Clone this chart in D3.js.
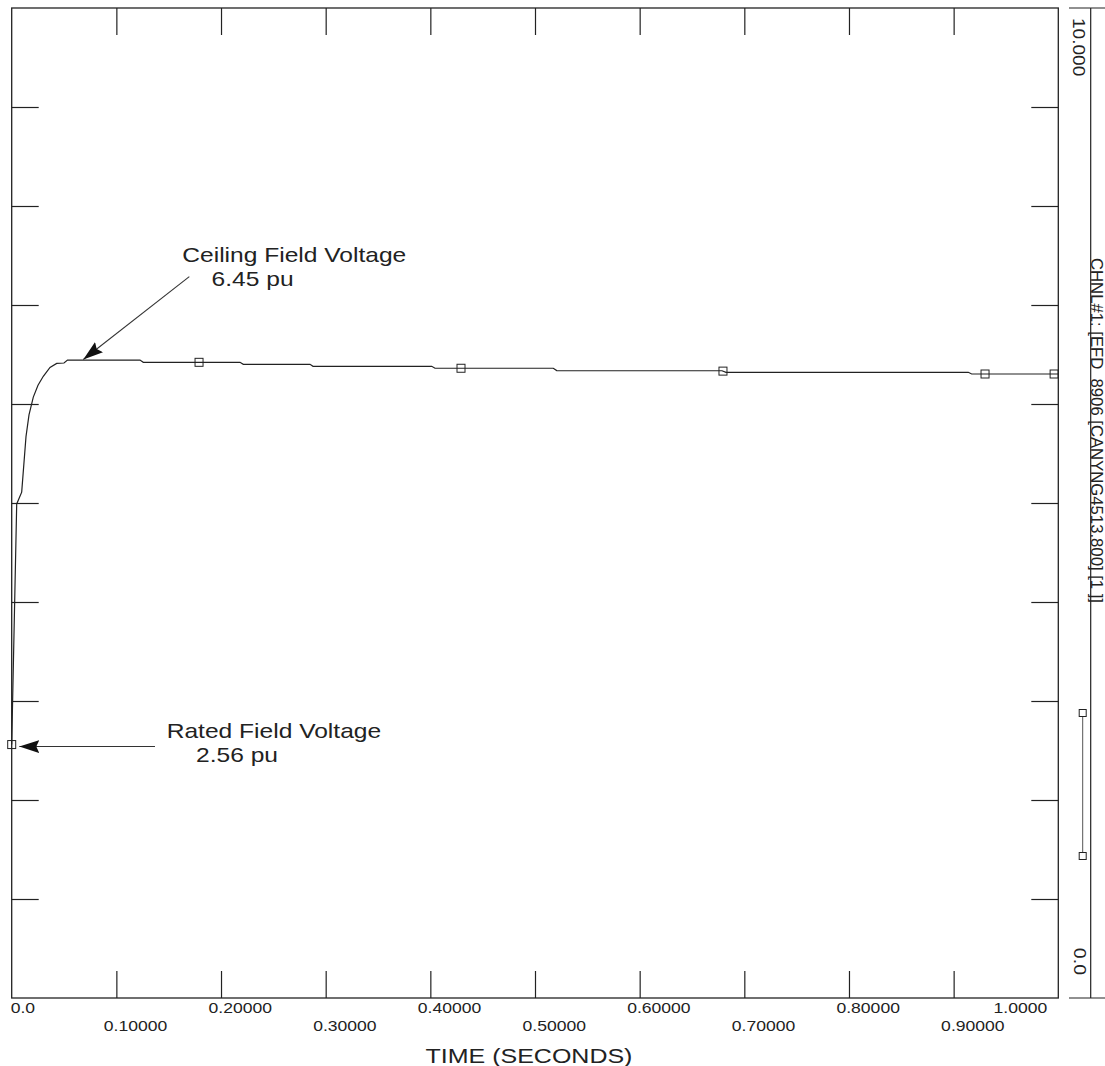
<!DOCTYPE html>
<html>
<head>
<meta charset="utf-8">
<script src="https://cdn.jsdelivr.net/npm/d3@7"></script>
<style>
  body { margin: 0; background: #fff; }
  svg { display: block; font-family: "Liberation Sans", Arial, sans-serif; }
  text { fill: #222; }
</style>
</head>
<body>
<div id="chart"></div>
<script>
// EFD channel trace, time in seconds, value in pu
const timeSec = [0, 0.00478, 0.00955, 0.01366, 0.01653, 0.02064, 0.02513, 0.03019, 0.0366, 0.043,
  0.04997, 0.05332, 0.12259, 0.12574, 0.21814, 0.22129, 0.28502, 0.28789, 0.4013, 0.40445,
  0.51749, 0.52074, 0.67868, 0.6825, 0.91401, 0.91726, 1.0];
const efdPu = [2.56, 4.99, 5.11, 5.67, 5.89, 6.07, 6.19, 6.28, 6.37, 6.41,
  6.414, 6.444, 6.444, 6.421, 6.421, 6.401, 6.401, 6.381, 6.381, 6.361,
  6.361, 6.338, 6.336, 6.32, 6.32, 6.303, 6.303];
const markerTimes = [0, 0.179, 0.4293, 0.6796, 0.93, 0.996];

const xTicks = [0.1, 0.2, 0.3, 0.4, 0.5, 0.6, 0.7, 0.8, 0.9];
const xTickLabels = ["0.0", "0.10000", "0.20000", "0.30000", "0.40000", "0.50000",
  "0.60000", "0.70000", "0.80000", "0.90000", "1.0000"];
const yTicks = [1, 2, 3, 4, 5, 6, 7, 8, 9];
const yMaxLabel = "10.000";
const yMinLabel = "0.0";
const channelLabel = "CHNL#1: [EFD  8906 [CANYNG4513.800] [1 ]]";

// annotations in data units: arrow tail -> tip, two text lines
const annTitles = ["Ceiling Field Voltage", "Rated Field Voltage"];
const annValues = ["6.45 pu", "2.56 pu"];
const annTip = [[0.0684, 6.45], [0.00726, 2.54]];
const annTail = [[0.1697, 7.286], [0.1369, 2.54]];
const annLine1 = [[0.163, 7.431], [0.1481, 2.623]];
const annLine2 = [[0.191, 7.189], [0.1761, 2.387]];

const W = 1105, H = 1066;
const STRETCH = 1.17; // the original text is drawn wider than Arial

const svg = d3.select("#chart").append("svg").attr("width", W).attr("height", H);

const x = d3.scaleLinear().domain([0, 1]).range([11.7, 1058.3]);
const y = d3.scaleLinear().domain([0, 10]).range([998, 8]);

function stretch(sel, k) {
  sel.each(function () {
    const w = this.getComputedTextLength();
    d3.select(this).attr("textLength", w * k).attr("lengthAdjust", "spacingAndGlyphs");
  });
}

const ink = "#222";

// tick marks (inward) on all four sides
const tickLen = 27;
const axes = [
  { ax: d3.axisBottom(x).tickValues(xTicks).tickSize(-tickLen), t: `translate(0,${y(0)})` },
  { ax: d3.axisTop(x).tickValues(xTicks).tickSize(-tickLen), t: `translate(0,${y(10)})` },
  { ax: d3.axisLeft(y).tickValues(yTicks).tickSize(-tickLen), t: `translate(${x(0)},0)` },
  { ax: d3.axisRight(y).tickValues(yTicks).tickSize(-tickLen), t: `translate(${x(1)},0)` }
];
axes.forEach(a => {
  const g = svg.append("g").attr("transform", a.t).call(a.ax.tickFormat(""));
  g.select(".domain").remove();
  g.selectAll("line").attr("stroke", ink).attr("stroke-width", 1.2);
});

// frame
svg.append("rect")
  .attr("x", x(0)).attr("y", y(10))
  .attr("width", x(1) - x(0)).attr("height", y(0) - y(10))
  .attr("fill", "none").attr("stroke", ink).attr("stroke-width", 1.3);

// x tick labels, two staggered rows
const allX = [0].concat(xTicks, [1]);
svg.append("g").selectAll("text")
  .data(allX)
  .join("text")
  .attr("x", (d, i) => i === 0 ? x(0) - 1 : (i === allX.length - 1 ? x(1) - 11 : x(d) - 12.5))
  .attr("y", (d, i) => i % 2 === 0 ? 1013 : 1031)
  .attr("text-anchor", (d, i) => i === allX.length - 1 ? "end" : "start")
  .attr("font-size", 15)
  .text((d, i) => xTickLabels[i])
  .call(stretch, STRETCH);

svg.append("text")
  .attr("x", (x(0) + x(1)) / 2 - 6)
  .attr("y", 1063)
  .attr("text-anchor", "middle")
  .attr("font-size", 21)
  .text("TIME (SECONDS)")
  .call(stretch, 1.19);

// trace
const pts = timeSec.map((t, i) => [t, efdPu[i]]);
const line = d3.line().x(d => x(d[0])).y(d => y(d[1]));
svg.append("path")
  .datum(pts)
  .attr("d", line)
  .attr("fill", "none")
  .attr("stroke", ink)
  .attr("stroke-width", 1.2);

const bis = d3.bisector(d => d[0]).left;
function valueAt(t) {
  const i = Math.max(1, Math.min(pts.length - 1, bis(pts, t)));
  const a = pts[i - 1], b = pts[i];
  return a[1] + (b[1] - a[1]) * (t - a[0]) / (b[0] - a[0]);
}
const ms = 8;
svg.append("g").selectAll("rect")
  .data(markerTimes)
  .join("rect")
  .attr("x", d => x(d) - ms / 2)
  .attr("y", d => y(valueAt(d)) - ms / 2)
  .attr("width", ms).attr("height", ms)
  .attr("fill", "none").attr("stroke", ink).attr("stroke-width", 1);

// annotations
svg.append("defs").append("marker")
  .attr("id", "head")
  .attr("viewBox", "0 0 20 13")
  .attr("refX", 20).attr("refY", 6.5)
  .attr("markerWidth", 20).attr("markerHeight", 13)
  .attr("markerUnits", "userSpaceOnUse")
  .attr("orient", "auto")
  .append("path")
  .attr("d", "M0,0 L20,6.5 L0,13 L3,6.5 Z")
  .attr("fill", "#111");

annTitles.forEach((title, i) => {
  svg.append("line")
    .attr("x1", x(annTail[i][0])).attr("y1", y(annTail[i][1]))
    .attr("x2", x(annTip[i][0])).attr("y2", y(annTip[i][1]))
    .attr("stroke", "#333").attr("stroke-width", 1.1)
    .attr("marker-end", "url(#head)");
  svg.append("text")
    .attr("x", x(annLine1[i][0])).attr("y", y(annLine1[i][1]))
    .attr("font-size", 21)
    .text(title)
    .call(stretch, STRETCH);
  svg.append("text")
    .attr("x", x(annLine2[i][0])).attr("y", y(annLine2[i][1]))
    .attr("font-size", 21)
    .text(annValues[i])
    .call(stretch, STRETCH);
});

// right-hand channel scale
const rx = 1090.7;
const rp = svg.append("g").attr("stroke", ink).attr("stroke-width", 1.2);
rp.append("line").attr("x1", rx).attr("x2", rx).attr("y1", y(10)).attr("y2", y(0));
rp.append("line").attr("x1", 1069).attr("x2", W).attr("y1", y(10)).attr("y2", y(10));
rp.append("line").attr("x1", 1069).attr("x2", W).attr("y1", y(0)).attr("y2", y(0));

svg.append("text")
  .attr("transform", `translate(1073,${y(10) + 10}) rotate(90)`)
  .attr("font-size", 17)
  .text(yMaxLabel)
  .call(stretch, 1.12);
svg.append("text")
  .attr("transform", `translate(1073.5,${y(0) - 23}) rotate(90)`)
  .attr("text-anchor", "end")
  .attr("font-size", 17)
  .text(yMinLabel)
  .call(stretch, 1.15);

svg.append("text")
  .attr("transform", `translate(1090.5,258) rotate(90)`)
  .attr("font-size", 16)
  .attr("textLength", 345)
  .attr("lengthAdjust", "spacingAndGlyphs")
  .style("white-space", "pre")
  .text(channelLabel);

// legend sample
const lg = svg.append("g").attr("stroke", ink).attr("stroke-width", 1);
lg.append("line").attr("x1", 1082.7).attr("x2", 1082.7).attr("y1", 713).attr("y2", 856).attr("stroke", "#555");
[713, 856].forEach(v => {
  lg.append("rect").attr("x", 1082.7 - 3.5).attr("y", v - 3.5)
    .attr("width", 7).attr("height", 7).attr("fill", "#fff");
});
</script>
</body>
</html>
